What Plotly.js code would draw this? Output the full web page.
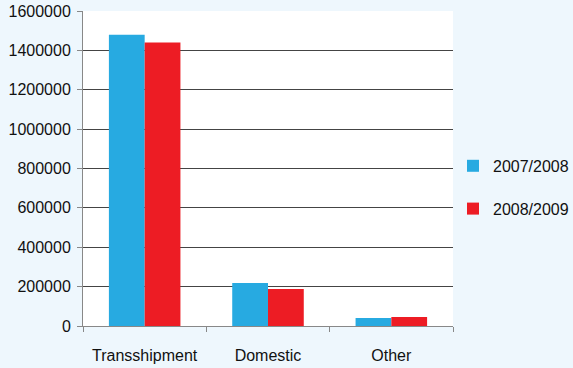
<!DOCTYPE html>
<html>
<head>
<meta charset="utf-8">
<script src="https://cdn.plot.ly/plotly-3.0.1.min.js"></script>
<style>
  html, body { margin: 0; padding: 0; background: #eef7fd; }
  #chart { width: 573px; height: 368px; }
</style>
</head>
<body>
<div id="chart"></div>
<script>
// Cargo volumes by category for two seasons
const categories = ["Transshipment", "Domestic", "Other"];
const season1Label = "2007/2008";
const season2Label = "2008/2009";
const season1Values = [1480000, 219000, 41000];
const season2Values = [1440000, 188000, 46000];
const yTicks = [0, 200000, 400000, 600000, 800000, 1000000, 1200000, 1400000, 1600000];

const fontFamily = "'Liberation Sans', Arial, sans-serif";
const textColor = "#111111";

const traces = [
  {
    type: "bar",
    name: season1Label,
    x: categories,
    y: season1Values,
    marker: { color: "#27aae1" },
    legendgroup: "a"
  },
  {
    type: "bar",
    name: season2Label,
    x: categories,
    y: season2Values,
    marker: { color: "#ed1c24" },
    legendgroup: "b"
  }
];

const layout = {
  width: 573,
  height: 368,
  margin: { l: 83, r: 120, t: 11, b: 42, autoexpand: false },
  paper_bgcolor: "#eef7fd",
  plot_bgcolor: "#ffffff",
  font: { family: fontFamily, size: 16, color: textColor },
  barmode: "group",
  bargap: 0.42,
  bargroupgap: 0,
  showlegend: true,
  legend: {
    x: 1.0,
    xanchor: "left",
    y: 0.44,
    yanchor: "middle",
    bgcolor: "rgba(0,0,0,0)",
    tracegroupgap: 19,
    font: { family: fontFamily, size: 16, color: textColor }
  },
  xaxis: {
    type: "category",
    tickson: "boundaries",
    ticks: "outside",
    ticklen: 5,
    tickcolor: "#888888",
    showline: true,
    linecolor: "#888888",
    linewidth: 1,
    showgrid: false,
    ticklabelstandoff: 15,
    fixedrange: true
  },
  yaxis: {
    range: [0, 1600000],
    tickvals: yTicks,
    ticktext: yTicks.map(v => String(v)),
    ticks: "outside",
    ticklen: 5,
    tickcolor: "#888888",
    showline: true,
    linecolor: "#888888",
    linewidth: 1,
    showgrid: true,
    gridcolor: "#444444",
    gridwidth: 1,
    zeroline: false,
    ticklabelstandoff: 3,
    fixedrange: true
  }
};

Plotly.newPlot("chart", traces, layout, { staticPlot: true, displayModeBar: false });
</script>
</body>
</html>
